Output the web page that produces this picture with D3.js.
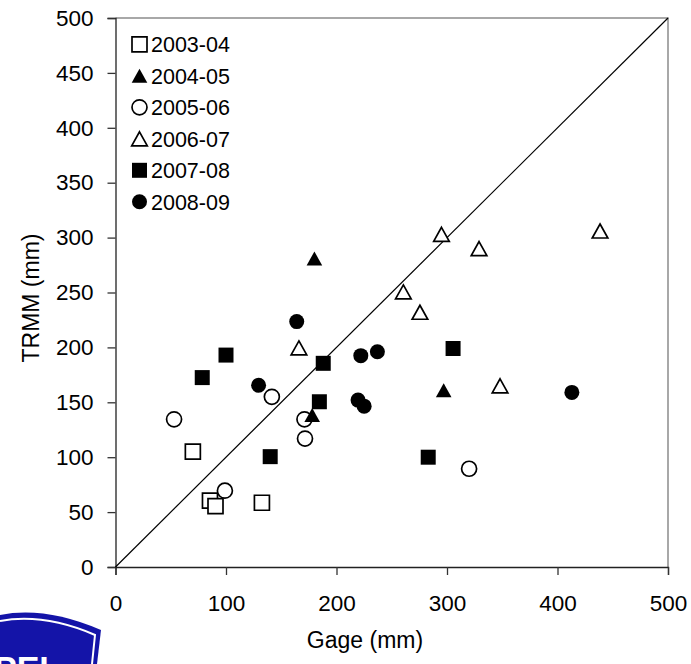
<!DOCTYPE html>
<html>
<head>
<meta charset="utf-8">
<script src="https://cdn.jsdelivr.net/npm/d3@7"></script>
<style>
  html, body { margin: 0; padding: 0; background: #fff; }
  svg { display: block; }
  text { font-family: "Liberation Sans", Arial, sans-serif; fill: #000; }
</style>
</head>
<body>
<svg id="chart" width="691" height="664"></svg>
<script>
// ---- Data (Gage mm, TRMM mm) ----
const seriesNames = ["2003-04", "2004-05", "2005-06", "2006-07", "2007-08", "2008-09"];
const gage2003 = [70, 85.5, 90.5, 132.5];
const trmm2003 = [105, 60.5, 55.5, 58.5];
const gage2004 = [180, 178, 297];
const trmm2004 = [281, 138.5, 161];
const gage2005 = [53, 99, 141.5, 171, 171.5, 320];
const trmm2005 = [134.5, 69.5, 155, 134.5, 117, 89.5];
const gage2006 = [166, 260.5, 275.5, 295, 329, 438.5, 348];
const trmm2006 = [199.5, 250.5, 232, 303, 290, 306, 165];
const gage2007 = [78.5, 100, 188, 184.5, 140, 283, 305.5];
const trmm2007 = [172.5, 193, 185.5, 150.5, 100.5, 100, 199];
const gage2008 = [164, 129.5, 222, 237, 219.5, 225, 413];
const trmm2008 = [223.5, 165.5, 192.5, 196, 152, 146.5, 159];
const xTicks = [0, 100, 200, 300, 400, 500];
const yTicks = [0, 50, 100, 150, 200, 250, 300, 350, 400, 450, 500];
const xTitle = "Gage (mm)";
const yTitle = "TRMM (mm)";

const series = [
  { name: seriesNames[0], gx: gage2003, ty: trmm2003, shape: "square", filled: false },
  { name: seriesNames[1], gx: gage2004, ty: trmm2004, shape: "triangle", filled: true },
  { name: seriesNames[2], gx: gage2005, ty: trmm2005, shape: "circle", filled: false },
  { name: seriesNames[3], gx: gage2006, ty: trmm2006, shape: "triangle", filled: false },
  { name: seriesNames[4], gx: gage2007, ty: trmm2007, shape: "square", filled: true },
  { name: seriesNames[5], gx: gage2008, ty: trmm2008, shape: "circle", filled: true }
];
// drawing order (overlaps in the reference)
const drawOrder = [0, 4, 5, 3, 2, 1];

const svg = d3.select("#chart");
const x = d3.scaleLinear().domain([0, 500]).range([115.5, 668]);
const y = d3.scaleLinear().domain([0, 500]).range([567, 18]);

// marker path centred on bounding box
function markerPath(shape) {
  if (shape === "square") { const s = 7.5; return `M${-s},${-s}H${s}V${s}H${-s}Z`; }
  if (shape === "triangle") { const w = 7.8, h = 7; return `M0,${-h}L${w},${h}L${-w},${h}Z`; }
  const r = 7.5;
  return `M${r},0A${r},${r} 0 1,1 ${-r},0A${r},${r} 0 1,1 ${r},0Z`;
}
function styleMarker(sel, s) {
  sel.attr("d", markerPath(s.shape))
    .attr("fill", s.filled ? "#000" : "#fff")
    .attr("stroke", "#000")
    .attr("stroke-width", s.filled ? 0 : 1.7);
}

// frame (top & right)
svg.append("path")
  .attr("d", `M${x(0)},${y(500)}H${x(500)}V${y(0)}`)
  .attr("fill", "none").attr("stroke", "#8c8c8c").attr("stroke-width", 1.5);

// axes
const gx = svg.append("g").attr("transform", `translate(0,${y(0)})`)
  .call(d3.axisBottom(x).tickValues(xTicks).tickSize(8).tickPadding(20).tickFormat(d3.format("d")));
const gy = svg.append("g").attr("transform", `translate(${x(0)},0)`)
  .call(d3.axisLeft(y).tickValues(yTicks).tickSize(8).tickPadding(14).tickFormat(d3.format("d")));
[gx, gy].forEach(g => {
  g.select(".domain").attr("stroke", "#222").attr("stroke-width", 1.3);
  g.selectAll(".tick line").attr("stroke", "#333").attr("stroke-width", 1.3);
  g.selectAll(".tick text").attr("font-size", 22.5).attr("font-family", "Liberation Sans, Arial, sans-serif").attr("fill", "#000");
});

// 1:1 line
svg.append("line")
  .attr("x1", x(0)).attr("y1", y(0)).attr("x2", x(500)).attr("y2", y(500))
  .attr("stroke", "#000").attr("stroke-width", 1.2);

// points
drawOrder.forEach(i => {
  const s = series[i];
  const pts = s.gx.map((v, k) => [v, s.ty[k]]);
  svg.append("g").selectAll("path").data(pts).join("path")
    .attr("transform", d => `translate(${x(d[0])},${y(d[1])})`)
    .each(function () { styleMarker(d3.select(this), s); });
});

// legend
const leg = svg.append("g");
series.forEach((s, i) => {
  const cy = 44.3 + i * 31.5;
  leg.append("path").attr("transform", `translate(139.5,${cy})`).call(sel => styleMarker(sel, s));
  leg.append("text").attr("x", 151).attr("y", cy).attr("dy", "0.36em")
    .attr("font-size", 21.5).text(s.name);
});

// axis titles
svg.append("text").attr("x", 365).attr("y", 648).attr("text-anchor", "middle")
  .attr("font-size", 23).text(xTitle);
svg.append("text").attr("transform", "translate(39,298) rotate(-90)").attr("text-anchor", "middle")
  .attr("font-size", 23).text(yTitle);

// logo (clipped at bottom-left)
const logo = svg.append("g");
logo.append("path")
  .attr("d", "M0,615 Q45,606 101,630 L97,664 L0,664 Z")
  .attr("fill", "#1414a8");
logo.append("path")
  .attr("d", "M0,621 Q44,613 95,635 L92,664")
  .attr("fill", "none").attr("stroke", "#fff").attr("stroke-width", 2);
logo.append("text").attr("x", -6).attr("y", 680).attr("font-size", 34).attr("font-weight", "bold")
  .attr("fill", "#fff").style("fill", "#fff").text("PEL");
</script>
</body>
</html>
